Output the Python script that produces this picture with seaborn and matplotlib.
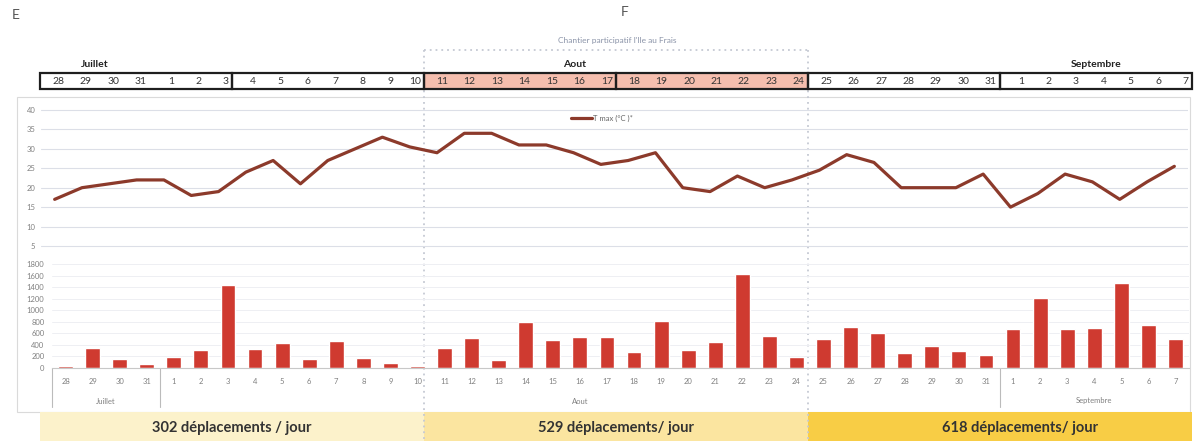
import numpy as np
import pandas as pd
import matplotlib
matplotlib.use("Agg")
import matplotlib.pyplot as plt
from matplotlib.patches import Rectangle
import seaborn as sns

# ---------------- data ----------------
days = [28, 29, 30, 31,
        1, 2, 3, 4, 5, 6, 7, 8, 9, 10, 11, 12, 13, 14, 15, 16, 17, 18, 19, 20,
        21, 22, 23, 24, 25, 26, 27, 28, 29, 30, 31,
        1, 2, 3, 4, 5, 6, 7]
months = ["Juillet"] * 4 + ["Aout"] * 31 + ["Septembre"] * 7
tmax = [17, 20, 21, 22,
        22, 18, 19, 24, 27, 21, 27, 30, 33, 30.5,
        29, 34, 34, 31, 31, 29, 26, 27, 29, 20, 19, 23, 20, 22,
        24.5, 28.5, 26.5, 20, 20, 20, 23.5,
        15, 18.5, 23.5, 21.5, 17, 21.5, 25.5]
trips = [40, 345, 155, 63,
         195, 304, 1440, 327, 430, 149, 464, 178, 92, 35,
         344, 516, 143, 802, 493, 533, 539, 269, 808, 309, 447, 1627, 550, 195,
         498, 716, 613, 258, 384, 292, 229,
         670, 1209, 670, 688, 1478, 739, 510]
month_names = ["Juillet", "Aout", "Septembre"]
period_labels = ["302 déplacements / jour", "529 déplacements/ jour", "618 déplacements/ jour"]
legend_label = "T max (°C )*"
chart_title = "Chantier participatif l'Ile au Frais"

df = pd.DataFrame({"idx": np.arange(len(days)), "day": days, "month": months,
                   "tmax": tmax, "trips": trips})

# ---------------- style ----------------
sns.set_style("white")
plt.rcParams["font.family"] = ["Lato", "DejaVu Sans"]

W, H = 1194, 441
fig = plt.figure(figsize=(W / 100, H / 100), dpi=100)


def ax_px(l, t, r, b, **kw):
    return fig.add_axes([l / W, 1 - b / H, (r - l) / W, (b - t) / H], **kw)


# background / decorations
bg = fig.add_axes([0, 0, 1, 1], zorder=-5)
bg.set_xlim(0, W)
bg.set_ylim(H, 0)
bg.axis("off")
bg.add_patch(Rectangle((17, 97), 1173, 315, fill=False, ec="#DADADA", lw=0.8))
band_cols = ["#FCF2CB", "#FBE5A0", "#F8CD45"]
band_x = [40, 424, 808]
text_x = [232, 616, 1020]
for bx, col, tx, lab in zip(band_x, band_cols, text_x, period_labels):
    bg.add_patch(Rectangle((bx, 412), 384, 29, fc=col, ec="none"))
    bg.text(tx, 428, lab, ha="center", va="center", fontsize=10.5,
            fontweight="bold", color="#333333")
# dotted box around "chantier participatif"
dot = dict(color="#C5C9D3", lw=1.3, ls=(0, (1, 2.2)))
bg.plot([424, 808], [50, 50], **dot)
bg.plot([424, 424], [50, 441], **dot)
bg.plot([808, 808], [50, 441], **dot)
bg.text(12, 15, "E", ha="left", va="center", fontsize=10, color="#555555")
bg.text(625, 12, "F", ha="center", va="center", fontsize=10, color="#555555")
bg.text(617, 41, chart_title, ha="center", va="center", fontsize=6, color="#8A93A8")

# ---------------- header table ----------------
hax = ax_px(40, 73, 1192, 89)
hax.set_facecolor("none")
hax.set_xlim(-0.5, len(days) - 0.5)
hax.set_ylim(0, 1)
hax.axis("off")
hax.add_patch(Rectangle((13.5, 0), 14, 1, fc="#F5BEAE", ec="none"))
for g in range(6):
    hax.add_patch(Rectangle((g * 7 - 0.5, 0), 7, 1, fill=False, ec="#1E1E1E",
                            lw=1.6, clip_on=False))
for i, d in enumerate(days):
    hax.text(i + 0.38, 0.45, str(d), ha="right", va="center", fontsize=7.5,
             color="#333333")
for m in month_names:
    c = df.loc[df["month"] == m, "idx"].mean()
    hax.text(c, 1.55, m, ha="center", va="center", fontsize=7.5,
             fontweight="bold", color="#222222")

# ---------------- temperature line ----------------
lax = ax_px(41, 100, 1188, 255)
lax.set_facecolor("none")
sns.lineplot(data=df, x="idx", y="tmax", ax=lax, color="#8C3A2B", lw=2.3,
             label=legend_label)
lax.set_xlim(-0.5, len(days) - 0.5)
lax.set_ylim(2.68, 42.57)
lax.set_yticks([5, 10, 15, 20, 25, 30, 35, 40])
lax.set_xticks([])
lax.grid(axis="y", color="#DCDFE7", lw=0.8)
lax.tick_params(axis="y", length=0, pad=4, labelsize=5.5, labelcolor="#808080")
lax.set_xlabel("")
lax.set_ylabel("")
for s in lax.spines.values():
    s.set_visible(False)
leg = lax.legend(loc="center left", bbox_to_anchor=(0.4625, 0.884), frameon=False,
                 fontsize=5.5, handlelength=2.7, handletextpad=0.1,
                 borderpad=0, borderaxespad=0)
for t in leg.get_texts():
    t.set_color("#666666")

# ---------------- trips bars ----------------
bax = ax_px(52, 258, 1189, 368)
bax.set_facecolor("none")
sns.barplot(data=df, x="idx", y="trips", ax=bax, color="#CF3A30", width=0.55,
            saturation=1, errorbar=None, native_scale=True)
bax.set_xlim(-0.5, len(days) - 0.5)
bax.set_ylim(0, 1904)
bax.set_yticks(range(0, 1801, 200))
bax.set_xticks(df["idx"])
bax.set_xticklabels([str(d) for d in days])
bax.grid(axis="y", color="#EEEFF3", lw=0.7)
bax.set_axisbelow(True)
bax.tick_params(axis="y", length=0, pad=5.5, labelsize=5.5, labelcolor="#808080")
bax.tick_params(axis="x", length=0, pad=7, labelsize=5.5, labelcolor="#808080")
bax.set_xlabel("")
bax.set_ylabel("")
for k, s in bax.spines.items():
    s.set_visible(k == "bottom")
bax.spines["bottom"].set_color("#C8C8C8")
bax.spines["bottom"].set_linewidth(0.8)

# month separators & labels beneath the category axis
trans = bax.get_xaxis_transform()
seps = [-0.5]
for m in month_names[1:]:
    seps.append(df.loc[df["month"] == m, "idx"].min() - 0.5)
for sx in seps:
    bax.plot([sx, sx], [0, -39 / 110], transform=trans, color="#BBBBBB",
             lw=0.8, clip_on=False)
for m in month_names:
    c = df.loc[df["month"] == m, "idx"].mean()
    bax.text(c, -33 / 110, m, transform=trans, ha="center", va="center",
             fontsize=5.5, color="#808080")

fig.savefig("out.png", dpi=100)
